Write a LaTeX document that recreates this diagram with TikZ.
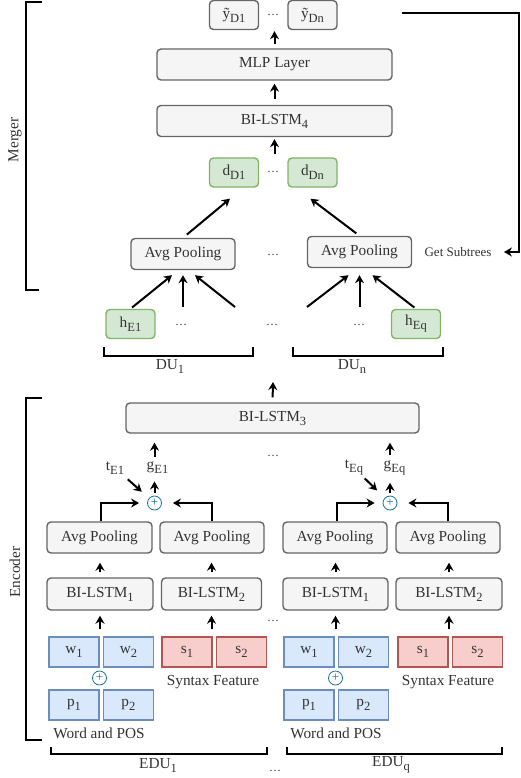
\documentclass[tikz,border=0pt]{standalone}
\usepackage{fontspec}
\setmainfont{Liberation Serif}
\usetikzlibrary{arrows.meta, positioning}

\definecolor{boxgray}{HTML}{F5F5F5}
\definecolor{linegray}{HTML}{666666}
\definecolor{textgray}{HTML}{333333}
\definecolor{greenfill}{HTML}{D5E8D4}
\definecolor{greenline}{HTML}{82B366}
\definecolor{bluefill}{HTML}{DAE8FC}
\definecolor{blueline}{HTML}{6C8EBF}
\definecolor{redfill}{HTML}{F8CECC}
\definecolor{redline}{HTML}{B85450}
\definecolor{plusblue}{HTML}{10739E}

% lowered subscript in the text font
\newcommand{\lsub}[1]{\raisebox{-4pt}{\fontsize{12.5}{12}\selectfont #1}}

\begin{document}
\begin{tikzpicture}[
    x=1pt, y=-1pt,
    font=\fontsize{15.3}{18}\selectfont,
    every node/.style={text=textgray},
    node distance=3pt,
    box/.style={rectangle, rounded corners=4pt, draw=linegray, fill=boxgray, line width=1.4pt, inner sep=0pt},
    wide/.style={box, minimum width=235pt, minimum height=31pt},
    pool/.style={box, minimum width=104pt, minimum height=31pt},
    small/.style={box, minimum width=49pt, minimum height=29pt},
    vec/.style={small, draw=greenline, fill=greenfill},
    tok/.style={rectangle, line width=1.4pt, minimum width=50pt, minimum height=30pt, inner sep=0pt},
    word/.style={tok, draw=blueline, fill=bluefill},
    syn/.style={tok, draw=redline, fill=redfill},
    plus/.style={circle, draw=plusblue, line width=0.8pt, minimum size=14pt, inner sep=0pt, text=plusblue, font=\fontsize{13}{13}\selectfont},
    arrow/.style={-{Stealth[length=8pt, width=9pt]}, line width=2pt},
    brace/.style={line width=1.8pt},
    dots/.style={font=\fontsize{12}{12}\selectfont}
  ]
    \useasboundingbox (0,0) rectangle (521,778);

    % merger
    \node[small] (y1) at (234,15) {ỹ\lsub{D1}};
    \node[small] (yn) at (312.5,15) {ỹ\lsub{Dn}};
    \node[dots] (ydots) at (273,15) {\ldots};
    \node[wide] (mlp) at (274.5,64.5) {MLP Layer};
    \node[wide] (bilstm4) at (274.5,121) {BI-LSTM\lsub{4}};
    \node[vec] (d1) at (234,172.5) {d\lsub{D1}};
    \node[vec] (dn) at (312.5,172.5) {d\lsub{Dn}};
    \node[dots] (ddots) at (273,172) {\ldots};
    \node[pool] (pool1) at (183,254) {Avg Pooling};
    \node[pool] (pooln) at (359.5,252) {Avg Pooling};
    \node[dots] (pdots) at (273,255) {\ldots};
    \node[vec] (h1) at (130.5,324) {h\lsub{E1}};
    \node[vec] (hq) at (416,324) {h\lsub{Eq}};
    \node[dots] (hdots1) at (181,325) {\ldots};
    \node[dots] (hdots2) at (272,325) {\ldots};
    \node[dots] (hdots3) at (359,325) {\ldots};
    \coordinate (hgap1) at (235,307);
    \coordinate (hgap2) at (307,307);
    \node (du1) at (170,366) {DU\lsub{1}};
    \node (dun) at (352,366) {DU\lsub{n}};
    \node[font=\fontsize{13}{15}\selectfont] (subtrees) at (458,252) {Get Subtrees};
    \coordinate (fbout) at (402,13);
    \coordinate (fbturn) at (519,13);
    \node[rotate=90] (merger) at (15,140) {Merger};

    \draw[arrow, shorten <=4pt, shorten >=1pt] (mlp.north) -- (mlp.north |- y1.south);
    \draw[arrow, shorten <=7pt, shorten >=3pt] (bilstm4.north |- mlp.south) ++(0,25) -- (mlp.south);
    \draw[arrow, shorten <=3pt, shorten >=2pt] (bilstm4.south |- d1.north) -- (bilstm4.south);
    \draw[arrow, shorten <=5pt] (pool1.north) -- ([xshift=-4pt, yshift=-11pt]d1.south);
    \draw[arrow, shorten <=4pt] (pooln.north) -- ([xshift=-2pt, yshift=-11pt]dn.south);
    \draw[arrow, shorten <=2pt] (h1.north) -- ([xshift=-11pt, yshift=-5pt]pool1.south);
    \draw[arrow, shorten <=2pt] (pool1.south |- h1.north) -- ([yshift=-5pt]pool1.south);
    \draw[arrow] (hgap1) -- ([xshift=12pt, yshift=-5pt]pool1.south);
    \draw[arrow] (hgap2) -- ([xshift=-11pt, yshift=-7pt]pooln.south);
    \draw[arrow, shorten <=2pt] (pooln.south |- hq.north) -- ([yshift=-7pt]pooln.south);
    \draw[arrow, shorten <=2pt] (hq.north) -- ([xshift=13pt, yshift=-7pt]pooln.south);
    \draw[brace] (104,347) |- (253,356) -- (253,347);
    \draw[brace] (293,347) |- (443,356) -- (443,347);
    \draw[arrow, shorten >=9pt] (fbout) -- (fbturn) |- (subtrees.east);
    \draw[brace] (42,2) -| (26,290) -- (39,290);

    % encoder
    \node[box, minimum width=293pt, minimum height=30pt] (bilstm3) at (272.5,418) {BI-LSTM\lsub{3}};
    \coordinate (encout) at (273,382);
    \node[dots] (gdots) at (273,456) {\ldots};
    \node (tE1) at (115,468) {t\lsub{E1}};
    \node (gE1) at (157.5,468) {g\lsub{E1}};
    \node (tEq) at (354,468) {t\lsub{Eq}};
    \node (gEq) at (394.5,468) {g\lsub{Eq}};
    \node[plus] (plus1) at (154.5,503) {+};
    \node[plus] (plus2) at (390,503) {+};

    \node[pool, minimum width=105pt] (apool1) at (99.5,537.5) {Avg Pooling};
    \node[pool] (apool2) at (212,537.5) {Avg Pooling};
    \node[pool] (apool3) at (335,537.5) {Avg Pooling};
    \node[pool] (apool4) at (448,537.5) {Avg Pooling};
    \node[pool, minimum width=106pt, minimum height=32pt] (lstm1) at (100,594) {BI-LSTM\lsub{1}};
    \node[pool, minimum width=100pt, minimum height=32pt] (lstm2) at (211.5,594) {BI-LSTM\lsub{2}};
    \node[pool, minimum width=105pt, minimum height=32pt] (lstm3) at (335.5,594) {BI-LSTM\lsub{1}};
    \node[pool, minimum width=106pt, minimum height=32pt] (lstm4) at (449,594) {BI-LSTM\lsub{2}};
    \node[dots] (ldots) at (273,621) {\ldots};

    \node[word] (w1) at (74,652) {w\lsub{1}};
    \node[word, right=of w1] (w2) {w\lsub{2}};
    \node[syn] (s1) at (187,652) {s\lsub{1}};
    \node[syn, right=of s1] (s2) {s\lsub{2}};
    \node[word] (w3) at (309,652) {w\lsub{1}};
    \node[word, right=of w3] (w4) {w\lsub{2}};
    \node[syn] (s3) at (423,652) {s\lsub{1}};
    \node[syn, right=of s3] (s4) {s\lsub{2}};
    \node[plus] (plus3) at (99.5,678) {+};
    \node[plus] (plus4) at (335.5,678) {+};
    \node (feat1) at (213,682) {Syntax Feature};
    \node (feat2) at (448,682) {Syntax Feature};
    \node[word] (p1) at (74,705) {p\lsub{1}};
    \node[word, right=of p1] (p2) {p\lsub{2}};
    \node[word] (p3) at (309,705) {p\lsub{1}};
    \node[word, right=of p3] (p4) {p\lsub{2}};
    \node (wp1) at (99,733) {Word and POS};
    \node (wp2) at (336,733) {Word and POS};
    \node (edu1) at (158,765) {EDU\lsub{1}};
    \node (eduq) at (391,765) {EDU\lsub{q}};
    \node[dots] (edots) at (275,771) {\ldots};
    \node[rotate=90] (encoder) at (15,572) {Encoder};

    \draw[arrow, shorten <=5pt] (bilstm3.north) -- (encout);
    \draw[arrow, shorten <=2pt, shorten >=9pt] (plus1.north |- gE1.north) -- (plus1.north |- bilstm3.south);
    \draw[arrow, shorten <=2pt, shorten >=9pt] (plus2.north |- gEq.north) -- (plus2.north |- bilstm3.south);
    \draw[arrow, shorten <=3pt, shorten >=4pt] (plus1.north) -- (plus1.north |- gE1.south);
    \draw[arrow, shorten <=3pt, shorten >=4pt] (plus2.north) -- (plus2.north |- gEq.south);
    \draw[arrow, shorten <=17pt, shorten >=17pt] (tE1.center) -- (plus1.center);
    \draw[arrow, shorten <=15pt, shorten >=18pt] (tEq.center) -- (plus2.center);
    \draw[arrow, shorten >=8pt] ([xshift=1pt]apool1.north) |- (plus1.west);
    \draw[arrow, shorten >=11pt] (apool2.north) |- (plus1.east);
    \draw[arrow, shorten >=8pt] ([xshift=2pt]apool3.north) |- (plus2.west);
    \draw[arrow, shorten >=11pt] (apool4.north) |- (plus2.east);
    \foreach \a/\b in {lstm1/apool1, lstm2/apool2, lstm3/apool3, lstm4/apool4} {
      \draw[arrow, shorten <=5pt, shorten >=9pt] (\a.north) -- (\a.north |- \b.south);
    }
    \draw[arrow, shorten <=7pt, shorten >=5pt] (lstm1.south |- w1.north) -- (lstm1.south);
    \draw[arrow, shorten <=7pt, shorten >=5pt] (lstm2.south |- s1.north) -- (lstm2.south);
    \draw[arrow, shorten <=7pt, shorten >=5pt] (lstm3.south |- w3.north) -- (lstm3.south);
    \draw[arrow, shorten <=7pt, shorten >=5pt] (lstm4.south |- s3.north) -- (lstm4.south);
    \draw[brace] (51,747) |- (267,754) -- (267,747);
    \draw[brace] (287,747) |- (502,754) -- (502,747);
    \draw[brace] (42,398) -| (26,740) -- (42,740);
  \end{tikzpicture}
\end{document}
